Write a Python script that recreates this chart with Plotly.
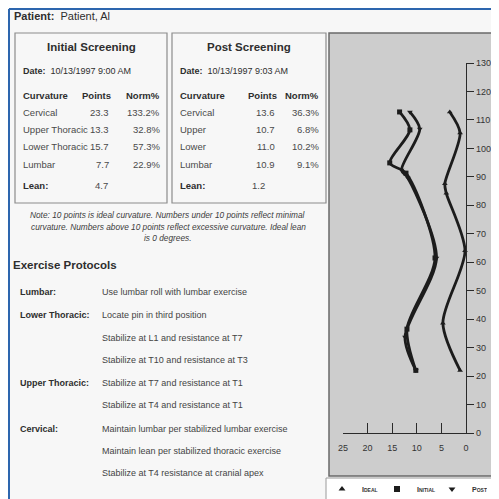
import plotly.graph_objects as go

# the page body has an 8px margin, so the figure is drawn 8px in from the corner
OFF = 8
W, H = 499 - OFF, 499 - OFF
FONT = "Liberation Sans, Arial, sans-serif"
INK = "#2e2e2e"

# curve data (x = deviation, y = height)
ideal_x = [3.3, 1.2, 4.3, 4.0, 0.2, 4.7, 1.2]
ideal_y = [112.8, 105.4, 87.6, 84.2, 64.0, 38.6, 22.0]
initial_x = [13.5, 11.4, 15.5, 12.2, 6.3, 12.0, 10.2]
initial_y = [112.8, 106.5, 94.9, 91.3, 61.5, 36.5, 22.0]
post_x = [11.4, 9.4, 13.1, 11.8, 6.0, 12.4, 10.2]
post_y = [112.8, 106.8, 92.4, 89.6, 61.5, 33.7, 22.0]

# screening tables
initial_labels = ["Cervical", "Upper Thoracic", "Lower Thoracic", "Lumbar"]
initial_points = [23.3, 13.3, 15.7, 7.7]
initial_norm = [133.2, 32.8, 57.3, 22.9]
initial_lean = 4.7
post_labels = ["Cervical", "Upper", "Lower", "Lumbar"]
post_points = [13.6, 10.7, 11.0, 10.9]
post_norm = [36.3, 6.8, 10.2, 9.1]
post_lean = 1.2

protocols = [
    ("Lumbar:", ["Use lumbar roll with lumbar exercise"]),
    ("Lower Thoracic:", ["Locate pin in third position",
                         "Stabilize at L1 and resistance at T7",
                         "Stabilize at T10 and resistance at T3"]),
    ("Upper Thoracic:", ["Stabilize at T7 and resistance at T1",
                         "Stabilize at T4 and resistance at T1"]),
    ("Cervical:", ["Maintain lumbar per stabilized lumbar exercise",
                   "Maintain lean per stabilized thoracic exercise",
                   "Stabilize at T4 resistance at cranial apex"]),
]

note_lines = [
    "Note: 10 points is ideal curvature. Numbers under 10 points reflect minimal",
    "curvature. Numbers above 10 points reflect excessive curvature. Ideal lean",
    "is 0 degrees.",
]


def px(x):
    return (x - OFF) / W


def py(y):
    return 1 - (y - OFF) / H


def label(fig, s, x, y, size=9.5, anchor="left", color=INK):
    fig.add_annotation(
        text=s, x=px(x), y=py(y), xref="paper", yref="paper",
        xanchor=anchor, yanchor="middle", showarrow=False,
        font=dict(size=size, color=color, family=FONT),
    )


def box(fig, x0, y0, x1, y1, line="#8c8c8c", fill=None, width=1.2):
    fig.add_shape(
        type="rect", xref="paper", yref="paper", layer="below",
        x0=px(x0), x1=px(x1), y0=py(y1), y1=py(y0),
        line=dict(color=line, width=width), fillcolor=fill,
    )


def screening(fig, left, right, title, date, labels, points, norm, lean, pts_r, lean_r):
    box(fig, left, 33, right, 203)
    label(fig, f"<b>{title}</b>", (left + right) / 2, 47, size=11.5, anchor="center")
    label(fig, f"<b>Date:</b>  {date}", left + 6, 71, size=9)
    norm_r = right - 5
    label(fig, "<b>Curvature</b>", left + 6, 96, size=9.5)
    label(fig, "<b>Points</b>", pts_r + 2, 96, size=9.5, anchor="right")
    label(fig, "<b>Norm%</b>", norm_r, 96, size=9.5, anchor="right")
    for i, (lab, p, n) in enumerate(zip(labels, points, norm)):
        yy = 112 + i * 17.5
        label(fig, lab, left + 6, yy, size=9.5, color="#4a4a4a")
        label(fig, f"{p:.1f}", pts_r, yy, size=9.5, anchor="right", color="#4a4a4a")
        label(fig, f"{n:.1f}%", norm_r, yy, size=9.5, anchor="right", color="#4a4a4a")
    label(fig, "<b>Lean:</b>", left + 6, 185, size=9.5)
    label(fig, f"{lean:.1f}", lean_r, 185, size=9.5, anchor="right", color="#4a4a4a")


fig = go.Figure()

curve = dict(mode="lines+markers", line=dict(color="#1c1c1c", width=2.8, shape="spline", smoothing=0.8),
             cliponaxis=False, showlegend=False, hoverinfo="skip")
fig.add_trace(go.Scatter(x=ideal_x, y=ideal_y, marker=dict(symbol="triangle-up", size=5, color="#1c1c1c"), **curve))
fig.add_trace(go.Scatter(x=initial_x, y=initial_y, marker=dict(symbol="square", size=5, color="#1c1c1c"), **curve))
fig.add_trace(go.Scatter(x=post_x, y=post_y, marker=dict(symbol="triangle-down", size=5, color="#1c1c1c"), **curve))

for name, sym in [("Ideal", "triangle-up"), ("Initial", "square"), ("Post", "triangle-down")]:
    fig.add_trace(go.Scatter(x=[None], y=[None], mode="markers", name=name,
                             marker=dict(symbol=sym, size=6, color="#1c1c1c")))

# chart panel
box(fig, 329, 33, 500, 476, line="#6a6a6a", fill="#cdcdcd", width=1.5)
box(fig, 326, 478, 500, 500, line="#9a9a9a", fill="#ffffff", width=1)

# page frame (kept just inside the figure edge)
fig.add_shape(type="line", xref="paper", yref="paper", x0=px(9), x1=1, y0=py(9), y1=py(9),
              line=dict(color="#2d66ae", width=2))
fig.add_shape(type="line", xref="paper", yref="paper", x0=px(9), x1=px(9), y0=py(9), y1=0,
              line=dict(color="#2d66ae", width=2))

label(fig, "<b>Patient:</b>  Patient, Al", 12, 16, size=11)

screening(fig, 15, 167, "Initial Screening", "10/13/1997 9:00 AM",
          initial_labels, initial_points, initial_norm, initial_lean, 111, 110)
screening(fig, 172, 326, "Post Screening", "10/13/1997 9:03 AM",
          post_labels, post_points, post_norm, post_lean, 277, 267)

for i, line in enumerate(note_lines):
    fig.add_annotation(text=f"<i>{line}</i>", x=px(168), y=py(215 + i * 11.5), xref="paper", yref="paper",
                       xanchor="center", yanchor="middle", showarrow=False,
                       font=dict(size=8.3, color="#3c3c3c", family=FONT))

label(fig, "<b>Exercise Protocols</b>", 11, 265, size=11.5)
row = 0
for head, items in protocols:
    label(fig, f"<b>{head}</b>", 18, 292 + row * 22.2, size=9)
    for item in items:
        label(fig, item, 100, 292 + row * 22.2, size=9, color="#444444")
        row += 1
    row += 0.05

axis_common = dict(showgrid=False, zeroline=False, showline=True, linecolor="#2a2a2a", linewidth=1.3,
                   tickcolor="#2a2a2a", tickwidth=1.3,
                   tickfont=dict(size=9, color="#333333", family=FONT))
fig.update_layout(
    width=W, height=H,
    margin=dict(l=0, r=0, t=0, b=0, autoexpand=False),
    paper_bgcolor="#f7f7f7",
    plot_bgcolor="rgba(0,0,0,0)",
    font=dict(family=FONT, color=INK),
    xaxis=dict(domain=[px(343), px(466)], range=[25, 0], dtick=5, ticks="inside", ticklen=10,
               anchor="y", side="bottom", ticklabelstandoff=6, **axis_common),
    yaxis=dict(domain=[py(433), py(63)], range=[0, 130], dtick=10, ticks="outside", ticklen=7,
               anchor="x", side="right", **axis_common),
    xaxis2=dict(overlaying="x", matches="x", anchor="y", side="bottom", ticks="outside", ticklen=4,
                showticklabels=False, range=[25, 0], dtick=5, **axis_common),
    yaxis2=dict(overlaying="y", matches="y", anchor="x", side="right", ticks="inside", ticklen=3,
                showticklabels=False, range=[0, 130], dtick=10, **axis_common),
    legend=dict(orientation="h", x=px(322), y=py(489), xanchor="left", yanchor="middle",
                bgcolor="rgba(0,0,0,0)", entrywidth=10, entrywidthmode="pixels", itemwidth=30,
                font=dict(size=7, color="#333333", family=FONT, weight="bold", variant="small-caps")),
    showlegend=True,
)

fig.write_html("out.html")
